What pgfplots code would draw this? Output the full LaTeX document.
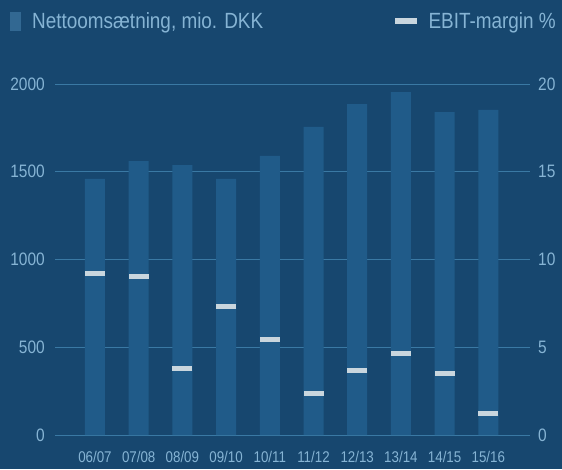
\documentclass[border=0pt]{standalone}
\usepackage{pgfplots}
\pgfplotsset{compat=1.18}
\usepackage{fontspec}
\setmainfont[FakeStretch=0.86]{Liberation Sans}
\definecolor{bgcol}{HTML}{17476F}
\definecolor{barcol}{HTML}{205B89}
\definecolor{gridcol}{HTML}{3A79A4}
\definecolor{txtcol}{HTML}{86B4D4}
\definecolor{markcol}{HTML}{C9D6DE}
\pgfplotsset{
  common/.style={
    scale only axis, width=475pt, height=351pt,
    at={(55pt,34pt)}, anchor=south west,
    xmin=-0.915, xmax=9.954,
    axis line style={draw=none},
    major tick length=0pt,
    /pgf/number format/assume math mode=true,
    /pgf/number format/1000 sep={},
    ticklabel style={text=txtcol},
  }
}
\begin{document}
\begin{tikzpicture}[x=1pt,y=1pt]
\fill[bgcol] (0,0) rectangle (562,469);
\useasboundingbox (0,0) rectangle (562,469);
\begin{axis}[common,
  ymin=0, ymax=2000, ytick={0,500,1000,1500,2000},
  ymajorgrids, grid style={gridcol, line width=0.9pt},
  xtick={0,...,9},
  xticklabels={06/07,07/08,08/09,09/10,10/11,11/12,12/13,13/14,14/15,15/16},
  xticklabel style={font=\fontsize{15.5}{17}\selectfont, inner sep=0pt, yshift=-16pt},
  yticklabel style={font=\fontsize{18}{20}\selectfont, inner sep=0pt, xshift=-10pt},
  legend style={at={(-0.0947,1.178)}, anchor=west, draw=none, fill=none, inner sep=0pt,
    column sep=9pt, font=\fontsize{22}{24}\selectfont, text=txtcol},
  legend image code/.code={\fill[barcol!92!white] (0pt,-9.5pt) rectangle (11pt,9.5pt);},
]
\addplot[ybar, bar width=20pt, bar shift=0pt, fill=barcol, draw=none]
  coordinates {(0,1459) (1,1561) (2,1538) (3,1459) (4,1590) (5,1755) (6,1886) (7,1954) (8,1840) (9,1852)};
\addlegendentry{Nettoomsætning, mio. DKK}
\end{axis}
\begin{axis}[common,
  ymin=0, ymax=20, ytick={0,5,10,15,20},
  axis y line*=right, axis x line=none,
  yticklabel style={font=\fontsize{18}{20}\selectfont, inner sep=0pt, xshift=8pt},
  legend style={at={(1.0589,1.18)}, anchor=east, draw=none, fill=none, inner sep=0pt,
    column sep=10pt, font=\fontsize{22}{24}\selectfont, text=txtcol},
  legend image code/.code={\fill[markcol] (0pt,-2.5pt) rectangle (21pt,2.5pt);},
]
\addplot[only marks, mark=-, mark size=10pt, mark options={line width=5pt, color=markcol}]
  coordinates {(0,9.23) (1,9.05) (2,3.78) (3,7.33) (4,5.47) (5,2.34) (6,3.65) (7,4.67) (8,3.53) (9,1.22)};
\addlegendentry{EBIT-margin \%}
\end{axis}
\end{tikzpicture}
\end{document}
